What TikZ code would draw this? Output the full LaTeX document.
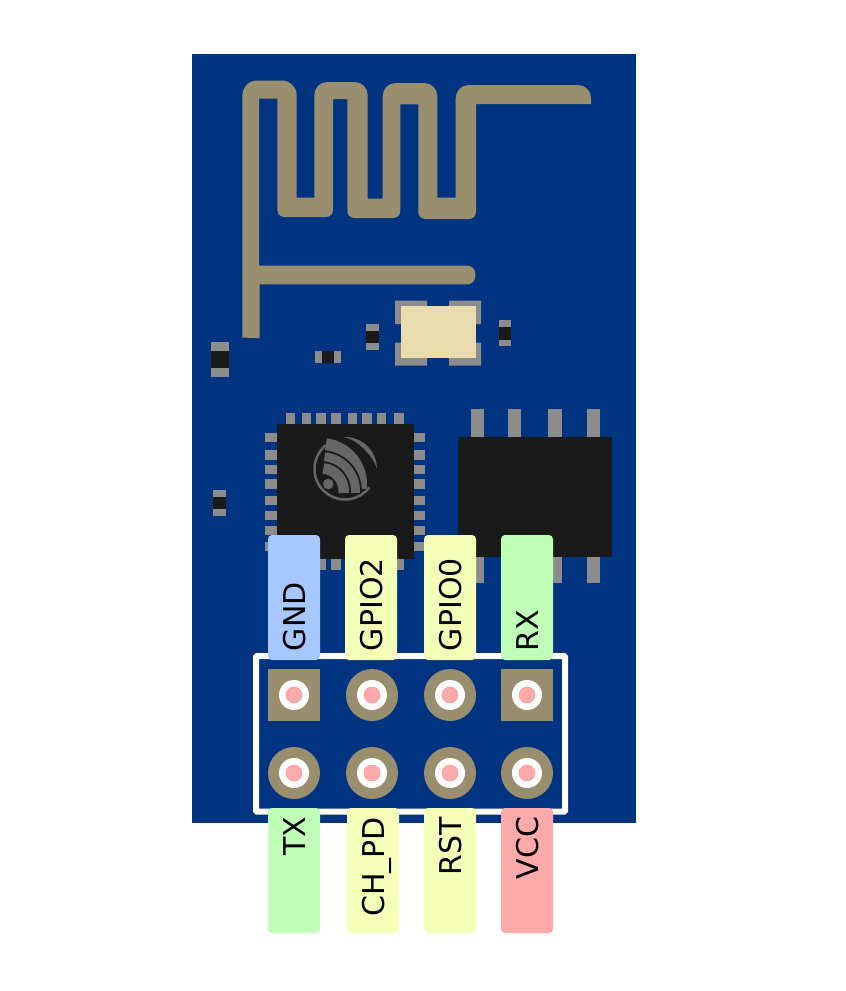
\documentclass[tikz,border=0pt]{standalone}
\usepackage{fontspec}
\setmainfont{DejaVu Sans}
\definecolor{board}{HTML}{003380}
\definecolor{copper}{HTML}{998F6E}
\definecolor{metal}{HTML}{8C8C8C}
\definecolor{package}{HTML}{1A1A1A}
\definecolor{logo}{HTML}{666666}
\definecolor{cream}{HTML}{E9DDAF}
\definecolor{hole}{HTML}{FFAAAA}
\definecolor{gndpin}{HTML}{A6C8FF}
\definecolor{iopin}{HTML}{F5FFB8}
\definecolor{uartpin}{HTML}{BFFFB8}
\definecolor{vccpin}{HTML}{FFAAAA}
\tikzset{
  pinlabel/.style={rectangle,rounded corners=4pt,rotate=90,minimum width=125pt,minimum height=52pt,
    text width=107pt,inner xsep=9pt,inner ysep=0pt,align=left,text height=22pt,text depth=0pt,
    font=\fontsize{30}{32}\selectfont},
  padring/.style={circle,fill=copper,minimum size=52pt,inner sep=0pt},
  padsquare/.style={rectangle,fill=copper,minimum size=52pt,inner sep=0pt},
  padhole/.style={circle,fill=white,minimum size=30pt,inner sep=0pt},
  paddrill/.style={circle,fill=hole,draw=hole!85!red,line width=0.5pt,minimum size=16pt,inner sep=0pt},
}
\newcommand{\smdv}[3]{% centre x, centre y, half length
  \fill[metal] (#1-6.4,#2-#3) rectangle (#1+6.4,#2+#3);
  \fill[package] (#1-6.4,#2-#3*0.5) rectangle (#1+6.4,#2+#3*0.5);
}
\begin{document}
\begin{tikzpicture}[x=1pt,y=-1pt]
  \useasboundingbox (0,0) rectangle (846,991);
  \fill[board] (192,54) rectangle (636,823);

  % antenna
  \fill[copper] (242.3,337.5) [rounded corners=15pt] -- (242.3,80.5) -- (296.7,80.5)
    [sharp corners] -- (296.7,197.7) -- (314.3,197.7)
    [rounded corners=13pt] -- (314.3,82) -- (367.7,82)
    [sharp corners] -- (367.7,198.7) -- (382.7,198.7)
    [rounded corners=13pt] -- (382.7,83) -- (437.3,83)
    [sharp corners] -- (437.3,197.7) -- (455.7,197.7)
    [rounded corners=13pt] -- (455.7,85) -- (591,85)
    [sharp corners] -- (591,104) -- (476,104)
    [rounded corners=7pt] -- (476,219) -- (418.3,219)
    [sharp corners] -- (418.3,104.3) -- (400.3,104.3)
    [rounded corners=7pt] -- (400.3,218) -- (347.3,218)
    [sharp corners] -- (347.3,99) -- (333,99)
    [rounded corners=7pt] -- (333,217) -- (277.3,217)
    [sharp corners] -- (277.3,98.7) -- (259,98.7) -- (259,265.7)
    [rounded corners=8pt] -- (475.3,265.7) -- (475.3,284.3)
    [sharp corners] -- (259.7,284.3) -- (259.7,338.3) -- cycle;

  % small parts
  \fill[metal] (395,300.7) rectangle (427,324) (449,300.7) rectangle (481,324)
    (395,342.7) rectangle (427,365.7) (449,342.7) rectangle (481,365.7);
  \fill[cream] (401,306) rectangle (475.7,358.3);
  \fill[metal] (211,342) rectangle (229,376.7);
  \fill[package] (211,351) rectangle (229,368.3);
  \fill[metal] (315.3,350.7) rectangle (340.7,363.3);
  \fill[package] (321.7,350.7) rectangle (334.3,363.3);
  \smdv{372.3}{337}{12.8}
  \smdv{505}{333.2}{12.8}
  \smdv{219.6}{503}{12.8}

  % wifi chip
  \foreach \px in {290.3,306.3,321,336,352.3,367,381.7,399}{
    \fill[metal] (\px-4.7,413.3) rectangle (\px+4.7,570.3);
  }
  \foreach \py in {437.7,455,469.7,484,500.7,515.7,530.3,546.3}{
    \fill[metal] (265.3,\py-4.7) rectangle (424.7,\py+4.7);
  }
  \fill[package] (277,423.7) rectangle (413.7,558.7);
  % logo
  \fill[logo] (328.3,484) circle (5.3pt);
  \begin{scope}
    \clip (321,484) circle (46pt);
    \foreach \rr/\ww/\aa in {47/12/3,34.5/9/-3,22.75/10.5/-5}{
      \draw[logo,line width=\ww pt] (321,491) ++(84:\rr pt) arc (84:\aa:\rr pt);
    }
  \end{scope}
  \draw[logo,line width=2.5pt] (345,469) ++(129:30.5pt) arc (129:323:30.5pt);
  \fill[logo] (343.9,437) arc (92:1:32pt) .. controls (372,455) and (358,440) .. cycle;

  % flash chip
  \foreach \px in {477.3,514.2,555,593.3}{
    \fill[metal] (\px-6.7,409) rectangle (\px+6.7,582.7);
  }
  \fill[package] (458,437) rectangle (611.7,556.7);

  % header
  \draw[white,line width=6pt,rounded corners=1pt] (256,656) rectangle (565,811.5);
  \node[padsquare] (p1) at (294,695) {};
  \node[padring] (p2) at (372,695) {};
  \node[padring] (p3) at (450,695) {};
  \node[padsquare] (p4) at (527,695) {};
  \node[padring] (p5) at (294,773) {};
  \node[padring] (p6) at (372,773) {};
  \node[padring] (p7) at (450,773) {};
  \node[padring] (p8) at (527,773) {};
  \foreach \p in {p1,p2,p3,p4,p5,p6,p7,p8}{
    \node[padhole] at (\p) {};
    \node[paddrill] at (\p) {};
  }

  \node[pinlabel,fill=gndpin] (gnd) at (294,597.5) {GND};
  \node[pinlabel,fill=iopin] (gpio2) at (371,597.5) {GPIO2};
  \node[pinlabel,fill=iopin] (gpio0) at (450,597.5) {GPIO0};
  \node[pinlabel,fill=uartpin] (rx) at (527,597.5) {RX};
  \node[pinlabel,fill=uartpin,align=right] (tx) at (294,870.5) {TX};
  \node[pinlabel,fill=iopin,align=right] (chpd) at (373,870.5) {CH\_PD};
  \node[pinlabel,fill=iopin,align=right] (rst) at (450,870.5) {RST};
  \node[pinlabel,fill=vccpin,align=right] (vcc) at (527,870.5) {VCC};
\end{tikzpicture}
\end{document}
